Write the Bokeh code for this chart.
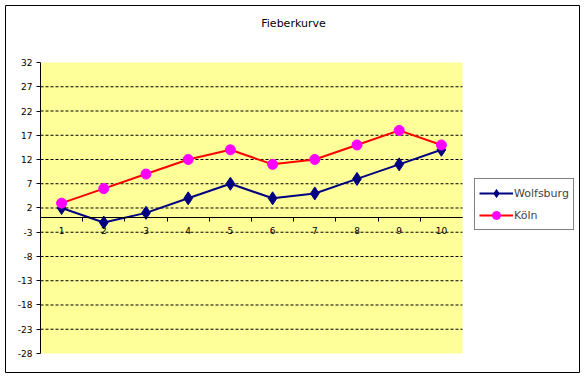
from bokeh.plotting import figure
from bokeh.models import (Range1d, LinearAxis, FixedTicker, Legend, LegendItem,
                          BoxAnnotation, Label, PrintfTickFormatter)
from bokeh.embed import file_html
from bokeh.resources import INLINE

title = "Fieberkurve"
days = [1, 2, 3, 4, 5, 6, 7, 8, 9, 10]
wolfsburg = [2, -1, 1, 4, 7, 4, 5, 8, 11, 14]
koeln = [3, 6, 9, 12, 14, 11, 12, 15, 18, 15]
y_ticks = [32, 27, 22, 17, 12, 7, 2, -3, -8, -13, -18, -23, -28]

FONT = "DejaVu Sans"

# frame covers the whole chart box; plot area is x 0.5..10.5, y -28..32
p = figure(width=585, height=378, output_backend="svg", toolbar_location=None,
           x_range=Range1d(-0.3294, 13.2725), y_range=Range1d(-31.918, 43.753),
           x_axis_location=None, y_axis_location=None,
           min_border_left=5, min_border_right=6, min_border_top=5, min_border_bottom=6)
p.background_fill_color = "white"
p.border_fill_color = "white"
p.outline_line_color = "black"
p.outline_line_width = 1
p.xgrid.grid_line_color = None
p.ygrid.grid_line_color = None

# plot area background
p.add_layout(BoxAnnotation(left=0.5, right=10.5, bottom=-28, top=32,
                           fill_color="#FFFF99", fill_alpha=1, line_color=None,
                           level="underlay"))

# horizontal dashed grid lines
grid_y = [t for t in y_ticks if -28 < t < 32]
p.segment(x0=[0.5] * len(grid_y), x1=[10.5] * len(grid_y), y0=grid_y, y1=grid_y,
          line_color="black", line_dash="3 2", line_width=1)

# y axis
ya = LinearAxis(ticker=FixedTicker(ticks=y_ticks), fixed_location=0.5, bounds=(-28, 32),
                formatter=PrintfTickFormatter(format="%d"))
ya.major_tick_out = 4
ya.major_tick_in = 0
ya.minor_tick_out = 0
ya.minor_tick_in = 0
ya.major_label_standoff = 4
ya.major_label_text_font = FONT
ya.major_label_text_font_size = "9px"
ya.major_label_text_color = "black"
ya.axis_line_color = "black"
ya.major_tick_line_color = "black"
p.add_layout(ya, "left")

# x axis at y = 0 (category labels)
xa = LinearAxis(ticker=FixedTicker(ticks=days), fixed_location=0, bounds=(0.5, 10.5),
                formatter=PrintfTickFormatter(format="%d"))
xa.major_tick_out = 0
xa.major_tick_in = 0
xa.minor_tick_out = 0
xa.minor_tick_in = 0
xa.major_label_standoff = 9
xa.major_label_text_font = FONT
xa.major_label_text_font_size = "9px"
xa.major_label_text_color = "black"
xa.axis_line_color = "black"
p.add_layout(xa, "below")

# boundary ticks between categories
xb = LinearAxis(ticker=FixedTicker(ticks=[d + 0.5 for d in days[:-1]]), fixed_location=0,
                bounds=(0.5, 10.5))
xb.major_tick_out = 4
xb.major_tick_in = 0
xb.minor_tick_out = 0
xb.minor_tick_in = 0
xb.major_label_text_alpha = 0
xb.axis_line_color = "black"
xb.major_tick_line_color = "black"
p.add_layout(xb, "below")

l1 = p.line(days, wolfsburg, line_color="#000080", line_width=2)
s1 = p.scatter(days, wolfsburg, marker="diamond", size=13,
               fill_color="#000080", line_color="#000080")
l2 = p.line(days, koeln, line_color="#FF0000", line_width=2)
s2 = p.scatter(days, koeln, marker="circle", size=10, fill_color="#FF00FF",
               line_color="#FF00FF")

legend = Legend(items=[LegendItem(label="Wolfsburg", renderers=[l1, s1]),
                       LegendItem(label="Köln", renderers=[l2, s2])],
                location=(469, 142))
legend.border_line_color = "black"
legend.border_line_width = 1
legend.background_fill_color = "white"
legend.label_text_font = FONT
legend.label_text_font_size = "11px"
legend.glyph_width = 34
legend.label_standoff = 1
legend.spacing = 2
legend.padding = 4
legend.margin = 0
legend.label_height = 18
p.add_layout(legend, "center")

p.add_layout(Label(x=288, y=349, x_units="screen", y_units="screen", text=title,
                   text_font=FONT, text_font_size="11px", text_color="black",
                   text_align="center", text_baseline="middle"))

open("out.html", "w").write(file_html(p, INLINE))
